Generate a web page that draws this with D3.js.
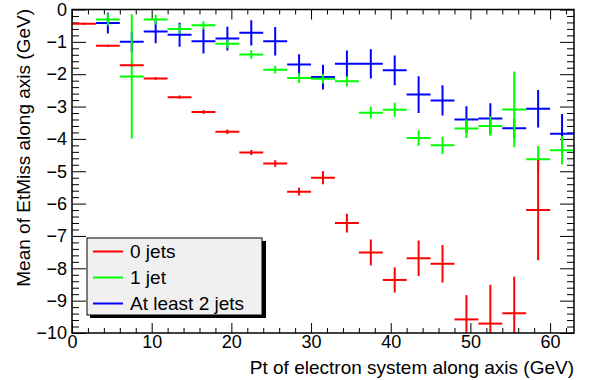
<!DOCTYPE html>
<html>
<head>
<meta charset="utf-8">
<script src="https://cdn.jsdelivr.net/npm/d3@7"></script>
<style>
	body { margin: 0; background: #fff; }
	svg { display: block; font-family: "Liberation Sans", Arial, sans-serif; }
</style>
</head>
<body>
<div class="canvas"></div>
<script>
// bins are 3 GeV wide, centres below
const binCentres = [1.5, 4.5, 7.5, 10.5, 13.5, 16.5, 19.5, 22.5, 25.5, 28.5, 31.5,
	34.5, 37.5, 40.5, 43.5, 46.5, 49.5, 52.5, 55.5, 58.5, 61.5];
const binHalfWidth = 1.5;

// 0 jets
const jets0Mean = [-0.44, -1.12, -1.72, -2.13, -2.71, -3.17, -3.78, -4.42, -4.76, -5.63, -5.2,
	-6.6, -7.51, -8.36, -7.69, -7.86, -9.58, -9.71, -9.39, -6.2, null];
const jets0Err = [0.03, 0.03, 0.04, 0.04, 0.05, 0.06, 0.07, 0.08, 0.1, 0.12, 0.2,
	0.29, 0.4, 0.39, 0.55, 0.58, 0.75, 1.2, 1.13, 1.55, null];

// 1 jet
const jets1Mean = [null, -0.31, -2.07, -0.31, -0.6, -0.49, -1.06, -1.39, -1.86, -2.12, -2.14,
	-2.22, -3.19, -3.1, -3.97, -4.2, -3.68, -3.6, -3.09, -4.63, -4.35];
const jets1Err = [null, 0.19, 1.92, 0.15, 0.15, 0.13, 0.14, 0.13, 0.12, 0.15, 0.15,
	0.16, 0.18, 0.22, 0.24, 0.27, 0.29, 0.3, 1.17, 0.41, 0.44];

// at least 2 jets
const jets2Mean = [null, -0.42, -1.0, -0.68, -0.78, -0.98, -0.9, -0.72, -0.98, -1.7, -2.09,
	-1.68, -1.68, -1.88, -2.63, -2.81, -3.4, -3.37, -3.67, -3.07, -3.84];
const jets2Err = [null, 0.32, 0.31, 0.36, 0.37, 0.38, 0.37, 0.39, 0.44, 0.32, 0.38,
	0.41, 0.45, 0.46, 0.57, 0.47, 0.41, 0.47, 0.3, 0.58, 0.61];

const seriesNames = ['0 jets', '1 jet', 'At least 2 jets'];
const seriesColours = ['#ff0000', '#00ff00', '#0000ff'];

const xTicks = [0, 10, 20, 30, 40, 50, 60];
const yTicks = [0, -1, -2, -3, -4, -5, -6, -7, -8, -9, -10];

const svg = d3.select('.canvas')
	.append('svg')
	.attr('width', 591)
	.attr('height', 380);

const margin = { top: 9.5, right: 17, bottom: 47, left: 72 };
const graphWidth = 591 - margin.left - margin.right;
const graphHeight = 380 - margin.top - margin.bottom;

const x = d3.scaleLinear().domain([0, 63]).range([0, graphWidth]);
const y = d3.scaleLinear().domain([-10, 0]).range([graphHeight, 0]);

const graph = svg.append('g')
	.attr('transform', `translate(${margin.left},${margin.top})`);

graph.append('clipPath').attr('id', 'clip')
	.append('rect')
	.attr('width', graphWidth)
	.attr('height', graphHeight);

// minor ticks
const xMinor = d3.range(0, 63.01, 2).filter(v => v % 10 != 0);
const yMinor = d3.range(-10, 0.01, 0.2).map(v => +v.toFixed(1)).filter(v => Math.abs(v % 1) > 0.01);

const tickStyle = g => {
	g.select('.domain').remove();
	g.selectAll('line').attr('stroke', '#000').attr('stroke-width', 1);
};

// bottom
graph.append('g').attr('transform', `translate(0,${graphHeight})`)
	.call(d3.axisBottom(x).tickValues(xTicks).tickSize(-10).tickPadding(2).tickFormat(d3.format('d')))
	.call(tickStyle)
	.selectAll('text').attr('font-size', 18).attr('fill', '#000').attr('font-family', null);
graph.append('g').attr('transform', `translate(0,${graphHeight})`)
	.call(d3.axisBottom(x).tickValues(xMinor).tickSize(-5).tickFormat(''))
	.call(tickStyle);
// top
graph.append('g')
	.call(d3.axisTop(x).tickValues(xTicks).tickSize(-10).tickFormat(''))
	.call(tickStyle);
graph.append('g')
	.call(d3.axisTop(x).tickValues(xMinor).tickSize(-5).tickFormat(''))
	.call(tickStyle);
// left
graph.append('g')
	.call(d3.axisLeft(y).tickValues(yTicks).tickSize(-14).tickPadding(5).tickFormat(d3.format('d')))
	.call(tickStyle)
	.selectAll('text').attr('font-size', 18).attr('fill', '#000').attr('font-family', null);
graph.append('g')
	.call(d3.axisLeft(y).tickValues(yMinor).tickSize(-7).tickFormat(''))
	.call(tickStyle);
// right
graph.append('g').attr('transform', `translate(${graphWidth},0)`)
	.call(d3.axisRight(y).tickValues(yTicks).tickSize(-14).tickFormat(''))
	.call(tickStyle);
graph.append('g').attr('transform', `translate(${graphWidth},0)`)
	.call(d3.axisRight(y).tickValues(yMinor).tickSize(-7).tickFormat(''))
	.call(tickStyle);

// error bar crosses
const series = [
	{ mean: jets2Mean, err: jets2Err, colour: seriesColours[2] },
	{ mean: jets1Mean, err: jets1Err, colour: seriesColours[1] },
	{ mean: jets0Mean, err: jets0Err, colour: seriesColours[0] }
];

const plot = graph.append('g').attr('clip-path', 'url(#clip)');

series.forEach(s => {
	const pts = binCentres.map((c, i) => ({ c: c, m: s.mean[i], e: s.err[i] }))
		.filter(d => d.m !== null);
	const g = plot.append('g')
		.attr('stroke', s.colour)
		.attr('stroke-width', 2);
	g.selectAll('line.h')
		.data(pts)
		.enter()
		.append('line')
		.attr('class', 'h')
		.attr('x1', d => x(d.c - binHalfWidth))
		.attr('x2', d => x(d.c + binHalfWidth))
		.attr('y1', d => y(d.m))
		.attr('y2', d => y(d.m));
	g.selectAll('line.v')
		.data(pts)
		.enter()
		.append('line')
		.attr('class', 'v')
		.attr('x1', d => x(d.c))
		.attr('x2', d => x(d.c))
		.attr('y1', d => y(d.m + d.e))
		.attr('y2', d => y(d.m - d.e));
});

// frame
graph.append('rect')
	.attr('width', graphWidth)
	.attr('height', graphHeight)
	.attr('fill', 'none')
	.attr('stroke', '#000')
	.attr('stroke-width', 1.5);

// axis titles
svg.append('text')
	.attr('x', 574)
	.attr('y', 374)
	.attr('text-anchor', 'end')
	.attr('font-size', 19)
	.text('Pt of electron system along axis (GeV)');

svg.append('text')
	.attr('transform', 'translate(30,9) rotate(-90)')
	.attr('text-anchor', 'end')
	.attr('font-size', 19)
	.text('Mean of EtMiss along axis (GeV)');

// legend
const legend = svg.append('g').attr('transform', 'translate(87,238)');
legend.append('rect')
	.attr('x', 3).attr('y', 3)
	.attr('width', 176).attr('height', 77)
	.attr('fill', '#000');
legend.append('rect')
	.attr('width', 175).attr('height', 77)
	.attr('fill', '#f0f0f0')
	.attr('stroke', '#000')
	.attr('stroke-width', 1);

const rows = legend.selectAll('g.row')
	.data(seriesNames)
	.enter()
	.append('g')
	.attr('transform', (d, i) => `translate(0,${13.5 + i * 26})`);
rows.append('line')
	.attr('x1', 6).attr('x2', 36)
	.attr('stroke', (d, i) => seriesColours[i])
	.attr('stroke-width', 2);
rows.append('text')
	.attr('x', 43)
	.attr('dy', '0.35em')
	.attr('font-size', 19)
	.text(d => d);
</script>
</body>
</html>
